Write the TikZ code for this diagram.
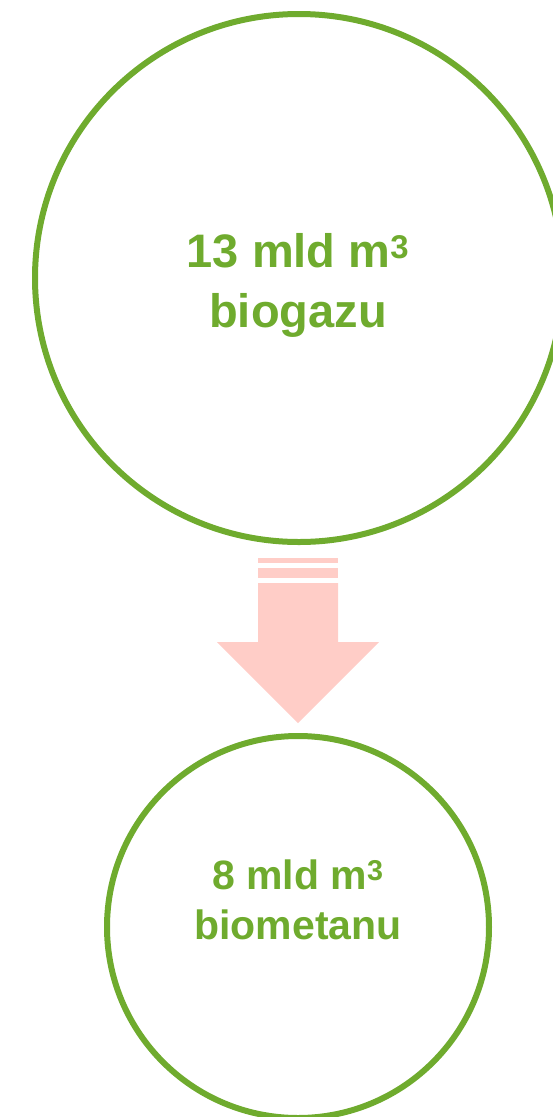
\documentclass[tikz,border=0pt]{standalone}
\usepackage{fontspec}
\setmainfont{Liberation Sans}
\usetikzlibrary{positioning,calc}

\definecolor{leafgreen}{RGB}{111,171,46}
\definecolor{salmon}{RGB}{255,205,199}

\begin{document}
\begin{tikzpicture}[x=1pt, y=-1pt,
  bubble/.style={circle, draw=leafgreen, line width=6pt, inner sep=0pt},
  amount/.style={text=leafgreen, align=center, font=\bfseries\fontsize{47}{60}\selectfont}]

\useasboundingbox (0,0) rectangle (552,1117);

\node[bubble, minimum size=528pt] (Biogaz)   at (299,278) {};
\node[bubble, minimum size=382pt] (Biometan) at (298,927) {};

\node[amount] (BiogazTxt)   at (298,285) {13 mld m\textsuperscript{3}\\biogazu};
\node[amount, font=\bfseries\fontsize{41}{50}\selectfont] (BiometanTxt) at (298,900) {8 mld m\textsuperscript{3}\\biometanu};

% striped arrow between the two circles
\fill[salmon] (258,557.5) rectangle (338,563);
\fill[salmon] (258,568) rectangle (338,578);
\fill[salmon] (258,583) -- (338,583) -- (338,642) -- (379,642)
  -- (298,723) -- (217,642) -- (258,642) -- cycle;

\end{tikzpicture}
\end{document}
